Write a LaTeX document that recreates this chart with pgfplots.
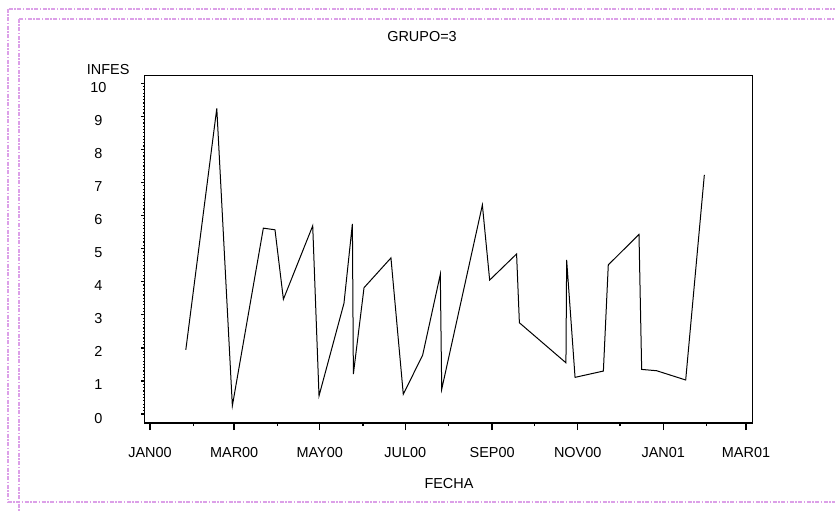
\documentclass[border=0pt]{standalone}
\usepackage{pgfplots}
\pgfplotsset{compat=1.18}
\usepackage{fontspec}
\setmainfont{Liberation Sans}
\definecolor{frm}{RGB}{220,160,232}
\newcommand{\lf}{\fontsize{14.5}{17}\selectfont}
\begin{document}
\begin{tikzpicture}[x=1bp,y=1bp]
\useasboundingbox (0,0) rectangle (835,-511);
\begin{scope}
\clip (0,0) rectangle (835,-511);
\draw[frm, line width=2bp, dash pattern=on 4bp off 1.5bp on 1.5bp off 1.5bp] (8,-8.7) rectangle (860,-502);
\draw[frm, line width=2bp, dash pattern=on 4bp off 1.5bp on 1.5bp off 1.5bp] (18.7,-19) rectangle (870,-530);
\end{scope}
\node[font=\lf] at (422,-37) {GRUPO=3};
\node[font=\lf, anchor=east] at (133,-70) {INFES};
\node[font=\lf] at (449,-484) {FECHA};
\begin{axis}[
  at={(144.3bp,-423bp)}, anchor=south west, scale only axis,
  width=608.4bp, height=347.7bp,
  xmin=-4.1, xmax=429.8, ymin=-0.27, ymax=10.24,
  axis line style={line width=1.2bp},
  tick align=outside, xtick pos=left, ytick pos=left,
  xtick={0,60,121,182,244,305,366,425},
  xticklabels={JAN00,MAR00,MAY00,JUL00,SEP00,NOV00,JAN01,MAR01},
  minor xtick={31,91,152,213,274,335,397},
  ytick={0,1,...,10},
  minor y tick num=9,
  major tick length=7bp, minor tick length=3bp,
  xtick style={line width=1.5bp, black},
  ytick style={line width=1.2bp, black, /pgfplots/major tick length=3bp, /pgfplots/minor tick length=1.5bp},
  /pgf/number format/assume math mode=true,
  tick label style={font=\lf},
  xticklabel style={anchor=center, yshift=-22.5bp},
  yticklabel style={anchor=center, xshift=-39bp, yshift=-4bp},
]
\addplot[black, line width=1bp] coordinates {
(25.5,1.94) (47.6,9.24) (58.7,0.25) (80.8,5.62) (89.1,5.57) (95.1,3.47)
(116.0,5.69) (120.5,0.55) (138.3,3.35) (144.3,5.75) (145.0,1.21) (152.6,3.82)
(171.8,4.72) (180.6,0.60) (194.4,1.78) (207.0,4.22) (208.0,0.75) (237.0,6.32)
(242.2,4.05) (261.4,4.84) (263.4,2.76) (296.6,1.55) (297.1,4.66) (303.1,1.11)
(323.3,1.30) (326.8,4.51) (348.7,5.43) (350.6,1.35) (361.3,1.31) (382.0,1.03)
(395.3,7.23)
};
\end{axis}
\end{tikzpicture}
\end{document}
